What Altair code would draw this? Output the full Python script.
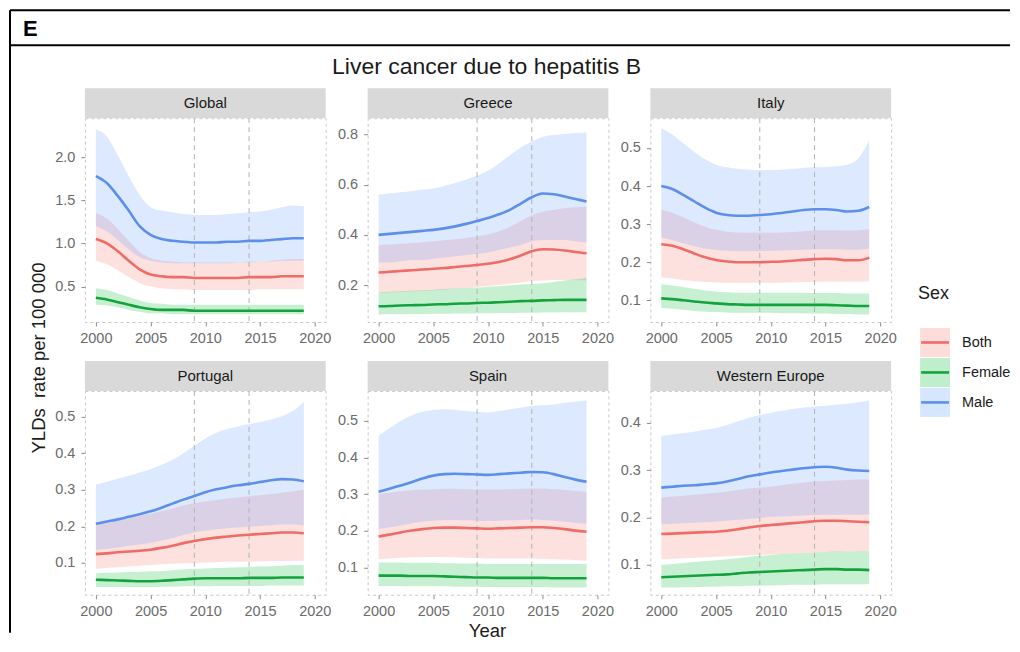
import altair as alt
import pandas as pd

YEARS = list(range(2000, 2020))
SEXES = ["Both", "Female", "Male"]
FILL_COLORS = ["#F8766D", "#00BA38", "#619CFF"]
LINE_COLORS = ["#EE6B66", "#14A23D", "#5D8FEA"]
REGIONS = ["Global", "Greece", "Italy", "Portugal", "Spain", "Western Europe"]
VLINE_YEARS = [2009, 2014]
X_TICKS = [2000, 2005, 2010, 2015, 2020]

TITLE = "Liver cancer due to hepatitis B"
PANEL_LABEL = "E"
X_TITLE = "Year"
Y_TITLE = "YLDs\u00a0 rate per 100 000"
LEGEND_TITLE = "Sex"

# ---- Global
GLOBAL_BOTH = [1.05, 1.00, 0.91, 0.80, 0.70, 0.64, 0.62, 0.61, 0.61, 0.60, 0.60, 0.60, 0.60, 0.60, 0.61, 0.61, 0.61, 0.62, 0.62, 0.62]
GLOBAL_BOTH_LO = [0.80, 0.76, 0.69, 0.61, 0.54, 0.50, 0.48, 0.47, 0.47, 0.46, 0.46, 0.46, 0.46, 0.46, 0.46, 0.47, 0.47, 0.47, 0.47, 0.47]
GLOBAL_BOTH_HI = [1.35, 1.29, 1.17, 1.03, 0.90, 0.83, 0.80, 0.79, 0.78, 0.78, 0.78, 0.78, 0.78, 0.78, 0.79, 0.79, 0.80, 0.81, 0.82, 0.82]
GLOBAL_FEMALE = [0.37, 0.35, 0.32, 0.29, 0.26, 0.24, 0.23, 0.23, 0.23, 0.22, 0.22, 0.22, 0.22, 0.22, 0.22, 0.22, 0.22, 0.22, 0.22, 0.22]
GLOBAL_FEMALE_LO = [0.29, 0.28, 0.26, 0.23, 0.21, 0.19, 0.19, 0.18, 0.18, 0.18, 0.18, 0.18, 0.18, 0.18, 0.18, 0.18, 0.18, 0.18, 0.18, 0.18]
GLOBAL_FEMALE_HI = [0.48, 0.46, 0.42, 0.38, 0.34, 0.31, 0.30, 0.29, 0.29, 0.29, 0.29, 0.29, 0.29, 0.29, 0.29, 0.29, 0.29, 0.29, 0.29, 0.29]
GLOBAL_MALE = [1.78, 1.70, 1.55, 1.38, 1.20, 1.10, 1.05, 1.03, 1.02, 1.01, 1.01, 1.01, 1.02, 1.02, 1.03, 1.03, 1.04, 1.05, 1.06, 1.06]
GLOBAL_MALE_LO = [1.20, 1.14, 1.04, 0.93, 0.84, 0.80, 0.78, 0.77, 0.77, 0.77, 0.77, 0.77, 0.77, 0.78, 0.78, 0.79, 0.79, 0.80, 0.80, 0.80]
GLOBAL_MALE_HI = [2.32, 2.24, 2.02, 1.78, 1.56, 1.42, 1.38, 1.36, 1.34, 1.33, 1.33, 1.33, 1.34, 1.35, 1.36, 1.37, 1.39, 1.42, 1.44, 1.43]

# ---- Greece
GREECE_BOTH = [0.250, 0.253, 0.256, 0.259, 0.262, 0.265, 0.268, 0.272, 0.276, 0.280, 0.285, 0.292, 0.303, 0.318, 0.335, 0.343, 0.342, 0.338, 0.332, 0.327]
GREECE_BOTH_LO = [0.170, 0.171, 0.173, 0.175, 0.177, 0.179, 0.182, 0.185, 0.188, 0.192, 0.196, 0.200, 0.205, 0.210, 0.215, 0.218, 0.220, 0.220, 0.219, 0.218]
GREECE_BOTH_HI = [0.360, 0.362, 0.365, 0.368, 0.371, 0.375, 0.379, 0.383, 0.388, 0.394, 0.402, 0.415, 0.432, 0.455, 0.478, 0.492, 0.500, 0.506, 0.510, 0.512]
GREECE_FEMALE = [0.116, 0.117, 0.119, 0.120, 0.121, 0.123, 0.124, 0.126, 0.127, 0.129, 0.130, 0.132, 0.134, 0.136, 0.137, 0.139, 0.140, 0.141, 0.141, 0.141]
GREECE_FEMALE_LO = [0.083, 0.084, 0.084, 0.085, 0.085, 0.086, 0.086, 0.087, 0.087, 0.088, 0.088, 0.089, 0.089, 0.090, 0.090, 0.091, 0.091, 0.092, 0.092, 0.092]
GREECE_FEMALE_HI = [0.172, 0.174, 0.176, 0.178, 0.180, 0.182, 0.184, 0.186, 0.188, 0.190, 0.193, 0.196, 0.199, 0.202, 0.204, 0.207, 0.212, 0.218, 0.223, 0.228]
GREECE_MALE = [0.400, 0.404, 0.408, 0.412, 0.416, 0.420, 0.426, 0.434, 0.444, 0.455, 0.467, 0.482, 0.500, 0.525, 0.550, 0.565, 0.562, 0.553, 0.543, 0.533]
GREECE_MALE_LO = [0.290, 0.290, 0.295, 0.300, 0.300, 0.305, 0.310, 0.315, 0.320, 0.325, 0.330, 0.340, 0.350, 0.360, 0.375, 0.380, 0.380, 0.380, 0.375, 0.370]
GREECE_MALE_HI = [0.560, 0.565, 0.570, 0.575, 0.580, 0.585, 0.595, 0.607, 0.621, 0.637, 0.656, 0.685, 0.717, 0.748, 0.772, 0.790, 0.798, 0.802, 0.806, 0.808]

# ---- Italy
ITALY_BOTH = [0.247, 0.243, 0.234, 0.223, 0.213, 0.206, 0.202, 0.200, 0.200, 0.200, 0.201, 0.202, 0.204, 0.206, 0.208, 0.209, 0.208, 0.205, 0.205, 0.212]
ITALY_BOTH_LO = [0.160, 0.157, 0.153, 0.150, 0.148, 0.147, 0.146, 0.146, 0.146, 0.146, 0.146, 0.147, 0.147, 0.148, 0.148, 0.149, 0.149, 0.149, 0.149, 0.150]
ITALY_BOTH_HI = [0.338, 0.330, 0.318, 0.305, 0.293, 0.285, 0.280, 0.278, 0.277, 0.277, 0.277, 0.278, 0.279, 0.281, 0.283, 0.284, 0.284, 0.283, 0.284, 0.287]
ITALY_FEMALE = [0.105, 0.103, 0.100, 0.097, 0.094, 0.092, 0.090, 0.089, 0.088, 0.088, 0.088, 0.088, 0.088, 0.088, 0.088, 0.088, 0.087, 0.086, 0.085, 0.085]
ITALY_FEMALE_LO = [0.080, 0.078, 0.075, 0.072, 0.070, 0.069, 0.068, 0.067, 0.067, 0.067, 0.067, 0.066, 0.066, 0.066, 0.065, 0.065, 0.064, 0.064, 0.063, 0.063]
ITALY_FEMALE_HI = [0.142, 0.139, 0.135, 0.130, 0.126, 0.123, 0.121, 0.120, 0.120, 0.120, 0.120, 0.120, 0.120, 0.120, 0.119, 0.119, 0.119, 0.118, 0.118, 0.118]
ITALY_MALE = [0.400, 0.392, 0.377, 0.360, 0.343, 0.330, 0.324, 0.322, 0.322, 0.324, 0.326, 0.329, 0.333, 0.337, 0.339, 0.339, 0.337, 0.333, 0.335, 0.345]
ITALY_MALE_LO = [0.265, 0.258, 0.250, 0.242, 0.236, 0.232, 0.230, 0.229, 0.229, 0.229, 0.230, 0.231, 0.232, 0.233, 0.234, 0.234, 0.234, 0.233, 0.233, 0.235]
ITALY_MALE_HI = [0.552, 0.535, 0.512, 0.490, 0.470, 0.456, 0.449, 0.445, 0.443, 0.442, 0.442, 0.443, 0.445, 0.447, 0.449, 0.450, 0.452, 0.456, 0.472, 0.520]

# ---- Portugal
PORTUGAL_BOTH = [0.124, 0.126, 0.129, 0.131, 0.133, 0.136, 0.141, 0.147, 0.154, 0.160, 0.165, 0.169, 0.172, 0.175, 0.177, 0.179, 0.181, 0.183, 0.183, 0.181]
PORTUGAL_BOTH_LO = [0.084, 0.086, 0.088, 0.090, 0.092, 0.094, 0.096, 0.098, 0.099, 0.100, 0.101, 0.102, 0.103, 0.103, 0.104, 0.104, 0.105, 0.105, 0.106, 0.106]
PORTUGAL_BOTH_HI = [0.205, 0.210, 0.216, 0.222, 0.228, 0.234, 0.241, 0.249, 0.257, 0.263, 0.268, 0.272, 0.276, 0.279, 0.282, 0.285, 0.288, 0.292, 0.296, 0.300]
PORTUGAL_FEMALE = [0.054, 0.053, 0.052, 0.051, 0.050, 0.050, 0.051, 0.053, 0.055, 0.057, 0.058, 0.058, 0.058, 0.058, 0.059, 0.059, 0.059, 0.060, 0.060, 0.060]
PORTUGAL_FEMALE_LO = [0.034, 0.034, 0.034, 0.034, 0.034, 0.034, 0.035, 0.035, 0.036, 0.036, 0.036, 0.037, 0.037, 0.037, 0.037, 0.037, 0.038, 0.038, 0.038, 0.038]
PORTUGAL_FEMALE_HI = [0.072, 0.073, 0.074, 0.075, 0.076, 0.077, 0.078, 0.080, 0.082, 0.084, 0.085, 0.086, 0.087, 0.088, 0.089, 0.090, 0.091, 0.092, 0.094, 0.095]
PORTUGAL_MALE = [0.207, 0.213, 0.219, 0.226, 0.233, 0.241, 0.251, 0.262, 0.273, 0.283, 0.293, 0.301, 0.307, 0.312, 0.316, 0.321, 0.326, 0.329, 0.328, 0.323]
PORTUGAL_MALE_LO = [0.135, 0.138, 0.142, 0.146, 0.150, 0.155, 0.161, 0.168, 0.176, 0.183, 0.188, 0.192, 0.195, 0.197, 0.199, 0.201, 0.203, 0.205, 0.205, 0.203]
PORTUGAL_MALE_HI = [0.314, 0.322, 0.330, 0.338, 0.347, 0.356, 0.368, 0.382, 0.400, 0.420, 0.440, 0.456, 0.466, 0.473, 0.479, 0.485, 0.492, 0.501, 0.515, 0.540]

# ---- Spain
SPAIN_BOTH = [0.185, 0.190, 0.196, 0.201, 0.205, 0.208, 0.209, 0.209, 0.208, 0.207, 0.206, 0.207, 0.208, 0.209, 0.210, 0.210, 0.208, 0.205, 0.201, 0.198]
SPAIN_BOTH_LO = [0.123, 0.125, 0.127, 0.128, 0.129, 0.129, 0.129, 0.128, 0.127, 0.126, 0.125, 0.125, 0.125, 0.125, 0.125, 0.124, 0.123, 0.122, 0.120, 0.119]
SPAIN_BOTH_HI = [0.300, 0.304, 0.308, 0.311, 0.313, 0.314, 0.315, 0.315, 0.314, 0.313, 0.313, 0.313, 0.314, 0.315, 0.316, 0.316, 0.314, 0.312, 0.309, 0.307]
SPAIN_FEMALE = [0.078, 0.078, 0.078, 0.077, 0.077, 0.077, 0.076, 0.075, 0.074, 0.073, 0.073, 0.072, 0.072, 0.072, 0.072, 0.072, 0.071, 0.071, 0.071, 0.071]
SPAIN_FEMALE_LO = [0.050, 0.050, 0.050, 0.049, 0.049, 0.049, 0.049, 0.048, 0.048, 0.048, 0.047, 0.047, 0.047, 0.047, 0.047, 0.047, 0.046, 0.046, 0.046, 0.046]
SPAIN_FEMALE_HI = [0.114, 0.114, 0.114, 0.113, 0.113, 0.113, 0.112, 0.112, 0.111, 0.111, 0.110, 0.110, 0.110, 0.110, 0.110, 0.110, 0.110, 0.110, 0.110, 0.110]
SPAIN_MALE = [0.307, 0.315, 0.324, 0.333, 0.343, 0.351, 0.355, 0.356, 0.355, 0.354, 0.353, 0.355, 0.357, 0.359, 0.361, 0.360, 0.355, 0.347, 0.340, 0.334]
SPAIN_MALE_LO = [0.205, 0.210, 0.215, 0.220, 0.225, 0.228, 0.230, 0.230, 0.229, 0.228, 0.227, 0.228, 0.229, 0.230, 0.231, 0.230, 0.228, 0.225, 0.222, 0.220]
SPAIN_MALE_HI = [0.460, 0.480, 0.500, 0.515, 0.525, 0.530, 0.532, 0.530, 0.527, 0.525, 0.523, 0.527, 0.532, 0.537, 0.541, 0.543, 0.545, 0.550, 0.553, 0.556]

# ---- Western Europe
WE_BOTH = [0.165, 0.166, 0.167, 0.168, 0.169, 0.170, 0.172, 0.175, 0.179, 0.182, 0.184, 0.186, 0.188, 0.190, 0.192, 0.193, 0.193, 0.192, 0.191, 0.190]
WE_BOTH_LO = [0.112, 0.113, 0.114, 0.115, 0.116, 0.117, 0.118, 0.119, 0.120, 0.121, 0.122, 0.123, 0.124, 0.125, 0.126, 0.127, 0.127, 0.128, 0.128, 0.129]
WE_BOTH_HI = [0.242, 0.244, 0.246, 0.248, 0.250, 0.252, 0.255, 0.258, 0.261, 0.263, 0.265, 0.268, 0.271, 0.274, 0.276, 0.277, 0.278, 0.279, 0.280, 0.280]
WE_FEMALE = [0.074, 0.075, 0.076, 0.077, 0.078, 0.079, 0.080, 0.082, 0.084, 0.085, 0.086, 0.087, 0.088, 0.089, 0.090, 0.091, 0.091, 0.090, 0.090, 0.089]
WE_FEMALE_LO = [0.052, 0.052, 0.053, 0.053, 0.054, 0.054, 0.055, 0.055, 0.056, 0.056, 0.057, 0.057, 0.058, 0.058, 0.058, 0.059, 0.059, 0.059, 0.059, 0.059]
WE_FEMALE_HI = [0.100, 0.102, 0.104, 0.106, 0.108, 0.110, 0.112, 0.114, 0.117, 0.119, 0.121, 0.123, 0.124, 0.125, 0.126, 0.127, 0.128, 0.128, 0.129, 0.129]
WE_MALE = [0.263, 0.265, 0.267, 0.268, 0.270, 0.272, 0.276, 0.281, 0.287, 0.291, 0.295, 0.298, 0.301, 0.304, 0.306, 0.307, 0.305, 0.301, 0.299, 0.298]
WE_MALE_LO = [0.186, 0.187, 0.188, 0.189, 0.190, 0.191, 0.193, 0.195, 0.197, 0.199, 0.201, 0.202, 0.203, 0.204, 0.205, 0.206, 0.206, 0.206, 0.206, 0.207]
WE_MALE_HI = [0.372, 0.375, 0.378, 0.381, 0.385, 0.389, 0.395, 0.403, 0.410, 0.416, 0.421, 0.425, 0.429, 0.432, 0.434, 0.436, 0.438, 0.440, 0.443, 0.447]

# y axis domains and ticks per panel
GLOBAL_Y_DOMAIN = [0.09, 2.45]
GREECE_Y_DOMAIN = [0.053, 0.865]
ITALY_Y_DOMAIN = [0.043, 0.578]
PORTUGAL_Y_DOMAIN = [0.013, 0.570]
SPAIN_Y_DOMAIN = [0.026, 0.582]
WE_Y_DOMAIN = [0.037, 0.467]
GLOBAL_Y_TICKS = [0.5, 1.0, 1.5, 2.0]
GREECE_Y_TICKS = [0.2, 0.4, 0.6, 0.8]
ITALY_Y_TICKS = [0.1, 0.2, 0.3, 0.4, 0.5]
PORTUGAL_Y_TICKS = [0.1, 0.2, 0.3, 0.4, 0.5]
SPAIN_Y_TICKS = [0.1, 0.2, 0.3, 0.4, 0.5]
WE_Y_TICKS = [0.1, 0.2, 0.3, 0.4]

SERIES = {
    "Global": [(GLOBAL_BOTH, GLOBAL_BOTH_LO, GLOBAL_BOTH_HI), (GLOBAL_FEMALE, GLOBAL_FEMALE_LO, GLOBAL_FEMALE_HI), (GLOBAL_MALE, GLOBAL_MALE_LO, GLOBAL_MALE_HI)],
    "Greece": [(GREECE_BOTH, GREECE_BOTH_LO, GREECE_BOTH_HI), (GREECE_FEMALE, GREECE_FEMALE_LO, GREECE_FEMALE_HI), (GREECE_MALE, GREECE_MALE_LO, GREECE_MALE_HI)],
    "Italy": [(ITALY_BOTH, ITALY_BOTH_LO, ITALY_BOTH_HI), (ITALY_FEMALE, ITALY_FEMALE_LO, ITALY_FEMALE_HI), (ITALY_MALE, ITALY_MALE_LO, ITALY_MALE_HI)],
    "Portugal": [(PORTUGAL_BOTH, PORTUGAL_BOTH_LO, PORTUGAL_BOTH_HI), (PORTUGAL_FEMALE, PORTUGAL_FEMALE_LO, PORTUGAL_FEMALE_HI), (PORTUGAL_MALE, PORTUGAL_MALE_LO, PORTUGAL_MALE_HI)],
    "Spain": [(SPAIN_BOTH, SPAIN_BOTH_LO, SPAIN_BOTH_HI), (SPAIN_FEMALE, SPAIN_FEMALE_LO, SPAIN_FEMALE_HI), (SPAIN_MALE, SPAIN_MALE_LO, SPAIN_MALE_HI)],
    "Western Europe": [(WE_BOTH, WE_BOTH_LO, WE_BOTH_HI), (WE_FEMALE, WE_FEMALE_LO, WE_FEMALE_HI), (WE_MALE, WE_MALE_LO, WE_MALE_HI)],
}
DOMAINS = {"Global": GLOBAL_Y_DOMAIN, "Greece": GREECE_Y_DOMAIN, "Italy": ITALY_Y_DOMAIN,
           "Portugal": PORTUGAL_Y_DOMAIN, "Spain": SPAIN_Y_DOMAIN, "Western Europe": WE_Y_DOMAIN}
TICKS = {"Global": GLOBAL_Y_TICKS, "Greece": GREECE_Y_TICKS, "Italy": ITALY_Y_TICKS,
         "Portugal": PORTUGAL_Y_TICKS, "Spain": SPAIN_Y_TICKS, "Western Europe": WE_Y_TICKS}

rows = []
for region in REGIONS:
    for sex, (mean, lo, hi) in zip(SEXES, SERIES[region]):
        for i, yr in enumerate(YEARS):
            rows.append({"region": region, "sex": sex, "year": yr, "val": mean[i], "lo": lo[i], "hi": hi[i]})
df = pd.DataFrame(rows)
vdf = pd.DataFrame({"year": VLINE_YEARS})

W = 241
H = 204
FONT = "Liberation Sans"
TXT = "#1a1a1a"
AXIS_LABEL = "#6b6b6b"
TICK = "#8c8c8c"

fill_scale = alt.Scale(domain=SEXES, range=FILL_COLORS)
stroke_scale = alt.Scale(domain=SEXES, range=LINE_COLORS)


def one(k="1"):
    return alt.Data(values=[{"k": k}])


def annotations():
    layers = []
    # frame lines (table cell)
    layers.append(alt.Chart(one()).mark_rule(color="black", strokeWidth=2).encode(
        x=alt.value(-75), y=alt.value(-108), y2=alt.value(515)))
    layers.append(alt.Chart(one()).mark_rule(color="black", strokeWidth=2).encode(
        x=alt.value(-75), x2=alt.value(926), y=alt.value(-108)))
    layers.append(alt.Chart(one()).mark_rule(color="black", strokeWidth=2).encode(
        x=alt.value(-75), x2=alt.value(926), y=alt.value(-73)))
    layers.append(alt.Chart(one()).mark_text(text=PANEL_LABEL, font=FONT, fontSize=22, fontWeight="bold",
                                             color="black", align="left", baseline="alphabetic").encode(
        x=alt.value(-62), y=alt.value(-82)))
    layers.append(alt.Chart(one()).mark_text(text=TITLE, font=FONT, fontSize=23, color=TXT,
                                             align="center", baseline="alphabetic").encode(
        x=alt.value(402), y=alt.value(-44)))
    layers.append(alt.Chart(one()).mark_text(text=Y_TITLE, font=FONT, fontSize=18.5, color=TXT, angle=270,
                                             align="center", baseline="middle").encode(
        x=alt.value(-46), y=alt.value(240)))
    layers.append(alt.Chart(one()).mark_text(text=X_TITLE, font=FONT, fontSize=18.5, color=TXT,
                                             align="center", baseline="middle").encode(
        x=alt.value(403), y=alt.value(513)))
    # legend
    layers.append(alt.Chart(one()).mark_text(text=LEGEND_TITLE, font=FONT, fontSize=18, color=TXT,
                                             align="left", baseline="middle").encode(
        x=alt.value(834), y=alt.value(176)))
    for i, (sex, fc, lc) in enumerate(zip(SEXES, FILL_COLORS, LINE_COLORS)):
        y0 = 210 + 30 * i
        layers.append(alt.Chart(one(sex)).mark_rect(color=fc, opacity=0.25).encode(
            x=alt.value(836), x2=alt.value(866), y=alt.value(y0), y2=alt.value(y0 + 29)))
        layers.append(alt.Chart(one(sex)).mark_rule(color=lc, strokeWidth=2.6).encode(
            x=alt.value(837), x2=alt.value(865), y=alt.value(y0 + 14.5)))
        layers.append(alt.Chart(one(sex)).mark_text(font=FONT, fontSize=14.5, color=TXT,
                                                    align="left", baseline="middle").encode(
            x=alt.value(878), y=alt.value(y0 + 15), text="k:N"))
    return layers


def axis(values, fmt):
    return alt.Axis(values=values, format=fmt, title=None, grid=False, domain=False,
                    labelPadding=6, labelFont=FONT, labelFontSize=14.5, labelColor=AXIS_LABEL,
                    tickColor=TICK, tickSize=4, tickWidth=1)


def panel(region, extra=None):
    d = df[df["region"] == region]
    base = alt.Chart(d)
    xenc = alt.X("year:Q", scale=alt.Scale(domain=[1999, 2021], nice=False, zero=False),
                 axis=axis(X_TICKS, "d"))
    yscale = alt.Scale(domain=DOMAINS[region], nice=False, zero=False)
    band = base.mark_area(fillOpacity=0.22, interpolate="monotone", clip=True).encode(
        x=xenc,
        y=alt.Y("lo:Q", scale=yscale, axis=axis(TICKS[region], ".1f")),
        y2="hi:Q",
        fill=alt.Fill("sex:N", scale=fill_scale, legend=None),
    )
    vl = alt.Chart(vdf).mark_rule(color="#b3b3b3", strokeWidth=1, strokeDash=[5, 4]).encode(x="year:Q")
    line = base.mark_line(strokeWidth=2.6, interpolate="monotone", clip=True).encode(
        x="year:Q",
        y="val:Q",
        stroke=alt.Stroke("sex:N", scale=stroke_scale, legend=None),
    )
    strip = alt.Chart(one(region)).mark_rect(color="#d9d9d9").encode(
        x=alt.value(0), x2=alt.value(W), y=alt.value(-30), y2=alt.value(0))
    strip_t = alt.Chart(one(region)).mark_text(font=FONT, fontSize=15, color=TXT,
                                               align="center", baseline="middle").encode(
        x=alt.value(W / 2), y=alt.value(-15), text="k:N")
    layers = [band, vl, line, strip, strip_t] + (extra or [])
    return alt.layer(*layers).properties(width=W, height=H)


panels = [panel(r, annotations() if r == "Global" else None) for r in REGIONS]

chart = alt.concat(*panels, columns=3, spacing={"row": 69, "column": 42}, bounds="flush").resolve_scale(
    x="independent", y="independent"
).properties(
    padding={"left": 0, "top": 0, "right": 0, "bottom": 0},
    background="white",
).configure_view(
    stroke="#c8c8c8", strokeDash=[3, 3], strokeWidth=1
)

chart.save("out.html", embed_options={"renderer": "svg", "actions": False})
